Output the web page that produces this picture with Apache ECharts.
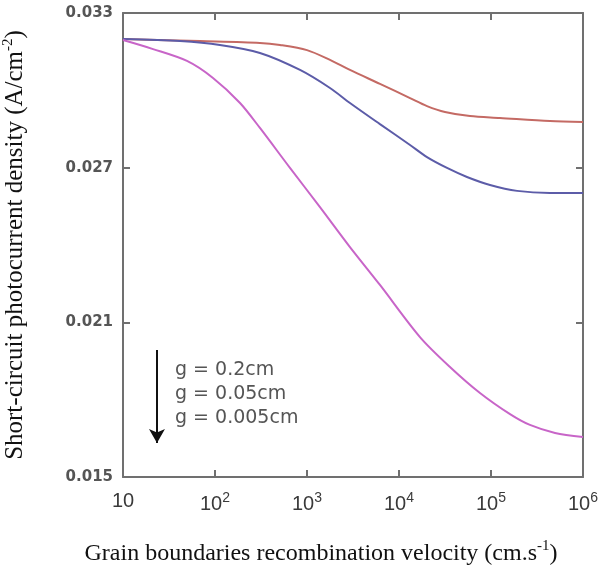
<!DOCTYPE html>
<html><head><meta charset="utf-8">
<script src="https://cdn.jsdelivr.net/npm/echarts@6/dist/echarts.min.js"></script>
<style>html,body{margin:0;padding:0;background:#fff}#c{width:600px;height:570px}</style>
</head><body><div id="c"></div>
<script>
// velocity (cm/s) sample points and photocurrent density (A/cm^2)
const velRed = [10, 68.7, 308, 509, 1000, 1778, 2931, 6210, 13180, 20150, 31600, 59100, 125000, 437000, 1000000];
const jscRed = [0.03199, 0.03191, 0.03184, 0.03176, 0.03156, 0.03118, 0.03079, 0.03025, 0.02970, 0.02939, 0.02916, 0.02900, 0.02893, 0.02881, 0.02877];
const velBlue = [10, 41.7, 113, 308, 840, 1778, 2931, 6210, 13180, 20150, 33260, 54800, 97500, 192000, 437000, 1000000];
const jscBlue = [0.03199, 0.03191, 0.03176, 0.03145, 0.03079, 0.03009, 0.02951, 0.02869, 0.02788, 0.02741, 0.02699, 0.02664, 0.02633, 0.02610, 0.02602, 0.02602];
const velMag = [10, 21.2, 49.6, 95.1, 187, 308, 653, 1384, 2931, 6210, 16900, 35800, 75900, 161000, 265000, 497000, 1000000];
const jscMag = [0.03195, 0.03160, 0.03114, 0.03048, 0.02951, 0.02854, 0.02699, 0.02547, 0.02392, 0.02245, 0.02043, 0.01927, 0.01826, 0.01744, 0.01702, 0.01671, 0.01655];
const seriesNames = ['g = 0.2cm', 'g = 0.05cm', 'g = 0.005cm'];
const yTicks = [0.015, 0.021, 0.027, 0.033];
const arrowVel = [23.4, 23.4];
const arrowJsc = [0.01993, 0.01632];

const pairs = (xs, ys) => xs.map((x, i) => [x, ys[i]]);
const chart = echarts.init(document.getElementById('c'));
const axisCol = '#707070';
const sansTick = '"DejaVu Sans", sans-serif';
const xTickFont = '"Liberation Sans", Arial, sans-serif';
const serif = '"Liberation Serif", "Times New Roman", serif';
const tickStyle = {inside: true, length: 7, lineStyle: {color: axisCol, width: 2}};
const lineAx = {lineStyle: {color: axisCol, width: 2}};
chart.setOption({
  animation: false,
  grid: {left: 123, right: 17, top: 13, bottom: 93, containLabel: false, outerBoundsMode: 'none'},
  xAxis: [{
    type: 'log', logBase: 10, min: 10, max: 1000000,
    axisLine: lineAx, axisTick: tickStyle,
    minorTick: {show: false}, splitLine: {show: false},
    axisLabel: {
      margin: 14, color: '#3a3a3a', fontFamily: xTickFont, fontSize: 20,
      formatter: v => { const e = Math.round(Math.log10(v)); return e === 1 ? '10' : '10{sup|' + e + '}'; },
      rich: {sup: {fontSize: 14, fontFamily: xTickFont, color: '#3a3a3a', padding: [0, 0, 12, 0]}}
    },
    name: 'Grain boundaries recombination velocity (cm.s{sup|-1})',
    nameLocation: 'middle', nameGap: 62,
    nameTextStyle: {fontFamily: serif, fontSize: 24, color: '#111', padding: [0, 64, 0, 0],
      rich: {sup: {fontSize: 15, fontFamily: serif, color: '#111', padding: [0, 0, 14, 0]}}}
  }, {
    type: 'log', logBase: 10, min: 10, max: 1000000, position: 'top',
    axisLine: lineAx, axisTick: tickStyle,
    axisLabel: {show: false}, splitLine: {show: false}
  }],
  yAxis: [{
    type: 'value', min: yTicks[0], max: yTicks[yTicks.length - 1], interval: 0.006,
    axisLine: Object.assign({show: true}, lineAx),
    axisTick: Object.assign({show: true}, tickStyle),
    splitLine: {show: false},
    axisLabel: {margin: 10, color: '#555', fontFamily: sansTick, fontSize: 15, fontWeight: 'bold',
      formatter: v => v.toFixed(3)},
    name: 'Short-circuit photocurrent density (A/cm{sup|-2})',
    nameLocation: 'middle', nameGap: 93,
    nameTextStyle: {fontFamily: serif, fontSize: 25, color: '#111',
      rich: {sup: {fontSize: 15, fontFamily: serif, color: '#111', padding: [0, 0, 14, 0]}}}
  }, {
    type: 'value', min: yTicks[0], max: yTicks[yTicks.length - 1], interval: 0.006, position: 'right',
    axisLine: Object.assign({show: true}, lineAx),
    axisTick: Object.assign({show: true}, tickStyle),
    axisLabel: {show: false}, splitLine: {show: false}
  }],
  series: [
    {name: seriesNames[0], type: 'line', smooth: 0.3, showSymbol: false, data: pairs(velRed, jscRed),
      lineStyle: {color: '#c46a64', width: 2}},
    {name: seriesNames[1], type: 'line', smooth: 0.3, showSymbol: false, data: pairs(velBlue, jscBlue),
      lineStyle: {color: '#5c5ca8', width: 2}},
    {name: seriesNames[2], type: 'line', smooth: 0.3, showSymbol: false, data: pairs(velMag, jscMag),
      lineStyle: {color: '#c865c8', width: 2},
      markLine: {silent: true, symbol: ['none', 'arrow'], symbolSize: [12, 14],
        lineStyle: {color: '#111', width: 2, type: 'solid'}, label: {show: false},
        data: [[{coord: [arrowVel[0], arrowJsc[0]]}, {coord: [arrowVel[1], arrowJsc[1]]}]]}}
  ],
  graphic: seriesNames.map((n, i) => ({
    type: 'text', left: 175, top: 361 + i * 24,
    style: {text: n, font: '19px "DejaVu Sans", sans-serif', fill: '#555'}
  }))
});
</script></body></html>
